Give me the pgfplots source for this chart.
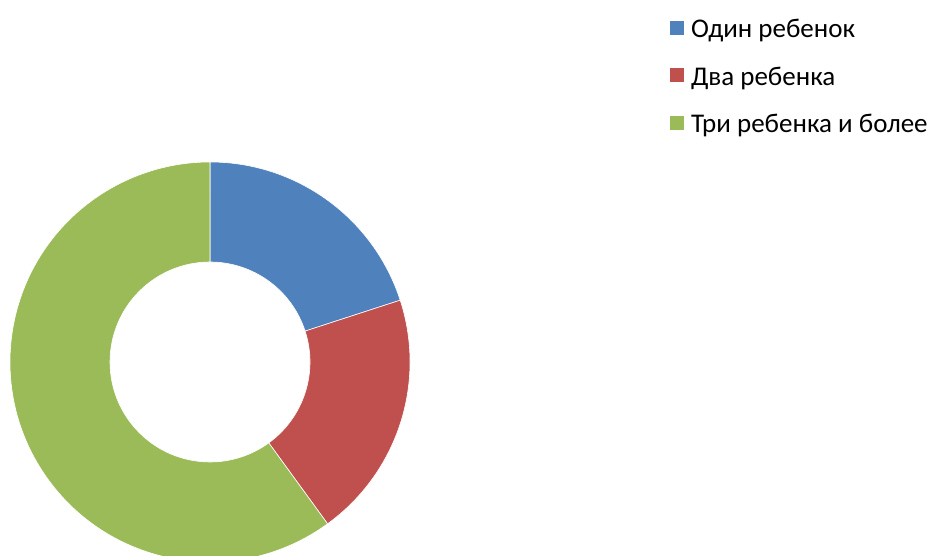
\documentclass[border=0pt]{standalone}
\usepackage{fontspec}
\setmainfont{Carlito}
\usepackage{pgfplots}
\usepackage{pgfplotstable}
\pgfplotsset{compat=1.18}
\definecolor{cA}{HTML}{4F81BD}
\definecolor{cB}{HTML}{C0504D}
\definecolor{cC}{HTML}{9BBB59}
\pgfplotstableread[col sep=comma]{
label,value
Один ребенок,20
Два ребенка,20
Три ребенка и более,60
}\donutdata
\pgfplotstablegetelem{0}{value}\of\donutdata \let\vA\pgfplotsretval
\pgfplotstablegetelem{1}{value}\of\donutdata \let\vB\pgfplotsretval
\pgfplotstablegetelem{2}{value}\of\donutdata \let\vC\pgfplotsretval
\pgfmathsetmacro\tot{\vA+\vB+\vC}
\pgfmathsetmacro\aA{90}
\pgfmathsetmacro\aB{\aA-(360/\tot)*\vA}
\pgfmathsetmacro\aC{\aB-(360/\tot)*\vB}
\pgfmathsetmacro\aD{\aC-(360/\tot)*\vC}
\newcommand\donutwedge[3]{%
  \fill[#1, draw=white, line width=0.6pt] (axis cs:210,194) ++(#2:200pt)
    arc[start angle=#2, end angle=#3, radius=200pt]
    -- ++(#3:-100pt)
    arc[start angle=#3, end angle=#2, radius=100pt] -- cycle;}
\begin{document}
\begin{tikzpicture}
\begin{axis}[
  scale only axis, width=929pt, height=556pt,
  xmin=0, xmax=929, ymin=0, ymax=556,
  hide axis,
  legend style={at={(0.7212,0.96763)}, anchor=north west, draw=none, fill=none,
    inner sep=0pt, outer sep=0pt, row sep=21.5pt, column sep=7pt,
    font=\fontsize{27}{32}\selectfont,
    nodes={inner sep=0pt, text height=20pt, text depth=6pt}},
  legend cell align=left,
  legend image code/.code={\fill[#1, draw=none] (0pt,-3.8pt) rectangle (14pt,10.2pt);},
]
\donutwedge{cA}{\aA}{\aB}
\donutwedge{cB}{\aB}{\aC}
\donutwedge{cC}{\aC}{\aD}
\addlegendimage{fill=cA, draw=none}
\addlegendentry{Один ребенок}
\addlegendimage{fill=cB, draw=none}
\addlegendentry{Два ребенка}
\addlegendimage{fill=cC, draw=none}
\addlegendentry{Три ребенка и более}
\end{axis}
\pgfresetboundingbox
\path (current axis.south west) rectangle (current axis.north east);
\end{tikzpicture}
\end{document}
